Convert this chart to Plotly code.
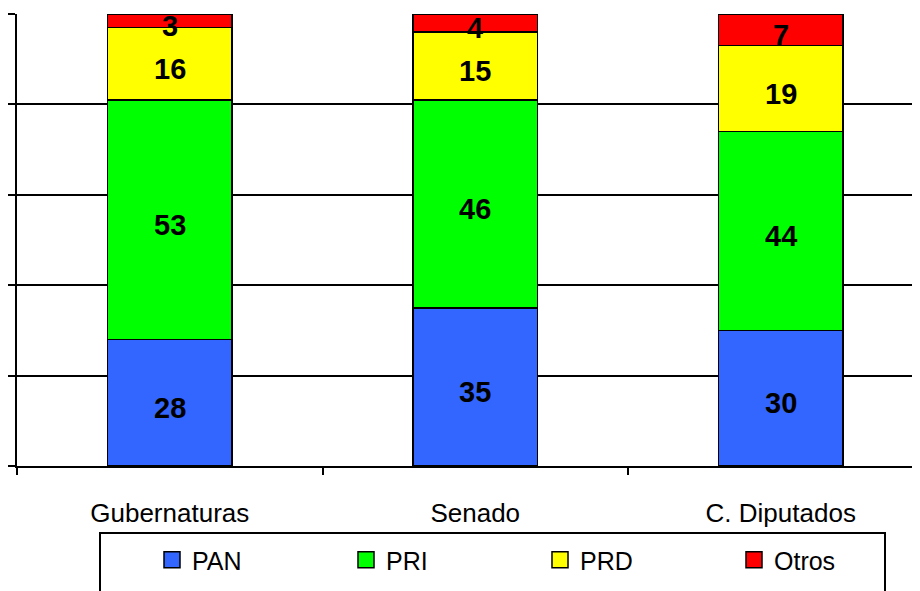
import plotly.graph_objects as go

categories = ["Gubernaturas", "Senado", "C. Diputados"]
pan = [28, 35, 30]
pri = [53, 46, 44]
prd = [16, 15, 19]
otros = [3, 4, 7]

series = [
    ("PAN", pan, "#3366FF"),
    ("PRI", pri, "#00FF00"),
    ("PRD", prd, "#FFFF00"),
    ("Otros", otros, "#FF0000"),
]

FONT = "Arial, Liberation Sans, sans-serif"

fig = go.Figure()
for name, vals, color in series:
    fig.add_trace(go.Bar(
        name=name, x=categories, y=vals,
        marker=dict(color=color, line=dict(color="black", width=1.5)),
        width=0.406, showlegend=False, hoverinfo="x+y+name",
    ))
# legend entries (square swatches)
for name, vals, color in series:
    fig.add_trace(go.Scatter(
        name=name, x=[None], y=[None], mode="markers",
        marker=dict(symbol="square", size=16, color=color, line=dict(color="black", width=1.5)),
        showlegend=True,
    ))

# value labels at segment centres (computed from the data)
annotations = []
for i, cat in enumerate(categories):
    base = 0
    for name, vals, color in series:
        v = vals[i]
        annotations.append(dict(
            x=cat, y=base + v / 2, xref="x", yref="y", text=str(v),
            showarrow=False, yshift=-5,
            font=dict(family=FONT, size=29, color="black", weight="bold"),
        ))
        base += v

# page has an 8px body margin; the figure starts at (8, 8) on screen
OFF = 8
W, H = 960, 591 - OFF
L = 17 - OFF
T = 14 - OFF
B = H - (466 - OFF)
pw = W - L
ph = H - T - B

def px_x(p):
    return (p - OFF - L) / pw

def px_y(p):
    return (H - B - (p - OFF)) / ph

fig.update_layout(
    barmode="stack",
    width=W, height=H,
    margin=dict(l=L, r=0, t=T, b=B),
    paper_bgcolor="white", plot_bgcolor="white",
    font=dict(family=FONT, size=24, color="black"),
    showlegend=True,
    annotations=annotations,
    legend=dict(
        orientation="h", x=px_x(152), xanchor="left",
        y=px_y(560), yanchor="middle",
        entrywidth=149, entrywidthmode="pixels",
        font=dict(family=FONT, size=25, color="black"),
        bgcolor="rgba(0,0,0,0)", borderwidth=0,
        traceorder="normal",
    ),
    xaxis=dict(
        range=[-0.5, -0.5 + pw / 305.5],
        showline=True, linecolor="black", linewidth=2,
        ticks="outside", tickson="boundaries", ticklen=7, tickwidth=2, tickcolor="black",
        showgrid=False, zeroline=False, automargin=False,
        tickfont=dict(family=FONT, size=26, color="black"),
        ticklabelstandoff=23,
    ),
    yaxis=dict(
        range=[0, 100], dtick=20,
        showline=True, linecolor="black", linewidth=2,
        ticks="outside", ticklen=8, tickwidth=2, tickcolor="black",
        showgrid=True, gridcolor="black", gridwidth=1.5,
        showticklabels=False, zeroline=False, automargin=False,
    ),
    shapes=[dict(
        type="rect", xref="paper", yref="paper",
        x0=px_x(100), x1=px_x(885), y0=px_y(533), y1=px_y(610),
        line=dict(color="black", width=2), fillcolor="rgba(0,0,0,0)",
    )],
)

fig.write_html("out.html")
